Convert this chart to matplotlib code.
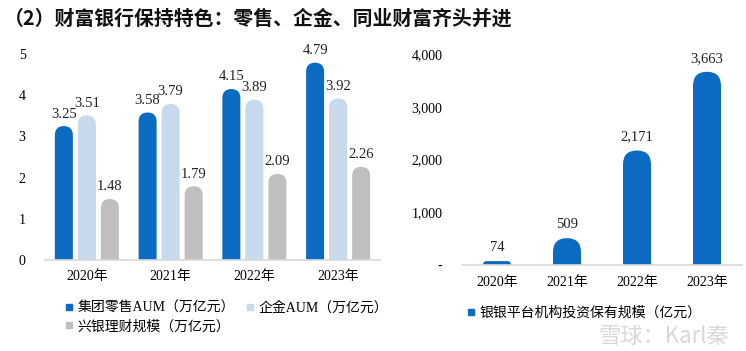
import matplotlib
matplotlib.use("Agg")
import matplotlib.pyplot as plt
from matplotlib.patches import FancyBboxPatch
from matplotlib.lines import Line2D
from matplotlib.ticker import FuncFormatter
import numpy as np

# 数据
years = ["2020年", "2021年", "2022年", "2023年"]
retail_aum = [3.25, 3.58, 4.15, 4.79]
corp_aum = [3.51, 3.79, 3.89, 3.92]
wm_scale = [1.48, 1.79, 2.09, 2.26]
left_names = ["集团零售AUM（万亿元）", "企金AUM（万亿元）", "兴银理财规模（万亿元）"]

interbank = [74, 509, 2171, 3663]
right_name = "银银平台机构投资保有规模（亿元）"

title = "（2）财富银行保持特色：零售、企金、同业财富齐头并进"

c_dark = "#0A6BC1"
c_light = "#C6DAEC"
c_gray = "#BFBFBF"

serif = ["Liberation Serif", "Noto Sans CJK SC"]
sans = ["Noto Sans CJK SC", "DejaVu Sans"]

fig = plt.figure(figsize=(7.46, 3.51), dpi=100)
fig.patch.set_facecolor("white")

axL = fig.add_axes([45/746, 91/351, 335/746, 206/351])
axR = fig.add_axes([462/746, 86/351, 280/746, 211/351])


def round_tops(ax, bars, frac=0.5):
    # 把普通柱子换成圆顶柱子
    fig.canvas.draw()
    bb = ax.get_window_extent()
    x0, x1 = ax.get_xlim()
    y0, y1 = ax.get_ylim()
    ppx = bb.width / (x1 - x0)
    ppy = bb.height / (y1 - y0)
    aspect = ppx / ppy
    for rect in list(bars):
        x, y = rect.get_x(), rect.get_y()
        w, h = rect.get_width(), rect.get_height()
        r_px = w * frac * ppx
        h_px = h * ppy
        if h_px < r_px:
            r_px = max(h_px, 0.5)
        ext = r_px / ppy
        p = FancyBboxPatch((x, y - ext), w, h + ext,
                           boxstyle=f"round,pad=0,rounding_size={r_px / ppx}",
                           mutation_aspect=aspect,
                           fc=rect.get_facecolor(), ec="none", zorder=2)
        ax.add_patch(p)
        rect.remove()


def style(ax):
    for s in ["top", "right", "left"]:
        ax.spines[s].set_visible(False)
    ax.spines["bottom"].set_color("#D9D9D9")
    ax.spines["bottom"].set_linewidth(1.2)
    ax.spines["bottom"].set_zorder(3)
    ax.tick_params(length=0)


# 左图
x = np.arange(len(years))
bw = 0.215
off = 0.275
axL.set_xlim(-0.5, 3.5)
axL.set_ylim(0, 5)
style(axL)
all_bars = []
for i, (vals, col) in enumerate(zip([retail_aum, corp_aum, wm_scale], [c_dark, c_light, c_gray])):
    bars = axL.bar(x + (i - 1) * off, vals, bw, color=col)
    for b, v in zip(bars, vals):
        axL.annotate(f"{v:.2f}", (b.get_x() + b.get_width() / 2, v),
                     xytext=(0, 4), textcoords="offset points",
                     ha="center", va="bottom", fontsize=10.5,
                     family=serif, color="#222222", annotation_clip=False)
    all_bars.append(bars)
axL.set_yticks(range(0, 6))
axL.set_xticks(x)
axL.set_xticklabels(years, family=serif, fontsize=10)
for t in axL.get_yticklabels():
    t.set_family(serif)
    t.set_fontsize(10)
axL.tick_params(axis="y", pad=14)
axL.tick_params(axis="x", pad=7)

# 右图
axR.set_xlim(-0.5, 3.5)
axR.set_ylim(0, 4000)
style(axR)
barsR = axR.bar(x, interbank, 0.4, color=c_dark)
for b, v in zip(barsR, interbank):
    axR.annotate(f"{v:,}", (b.get_x() + b.get_width() / 2, v),
                 xytext=(0, 5), textcoords="offset points",
                 ha="center", va="bottom", fontsize=10.5,
                 family=serif, color="#222222", annotation_clip=False)
axR.set_yticks(range(0, 4001, 1000))
axR.yaxis.set_major_formatter(FuncFormatter(lambda v, p: "-" if v == 0 else f"{int(v):,}"))
axR.set_xticks(x)
axR.set_xticklabels(years, family=serif, fontsize=10)
for t in axR.get_yticklabels():
    t.set_family(serif)
    t.set_fontsize(10)
axR.tick_params(axis="y", pad=14)
axR.tick_params(axis="x", pad=8)

for bars in all_bars:
    round_tops(axL, bars)
round_tops(axR, barsR)

# 图例
def sq(c):
    return Line2D([], [], marker="s", color=c, linestyle="none", markersize=4.5)

legL = fig.legend([sq(c_dark), sq(c_gray), sq(c_light)],
                  [left_names[0], left_names[2], left_names[1]],
                  ncol=2, loc="upper left", bbox_to_anchor=(50/746, 1 - 289/351),
                  frameon=False, handletextpad=0.1, columnspacing=0.6,
                  handlelength=1.0, labelspacing=0.35,
                  prop={"family": serif, "size": 10})

legR = fig.legend([sq(c_dark)], [right_name], loc="upper left",
                  bbox_to_anchor=(452/746, 1 - 293/351), frameon=False,
                  handletextpad=0.1, handlelength=1.0,
                  prop={"family": sans, "size": 10})

# 标题
fig.text(4/746, 1 - 18/351, title, fontsize=14.3, fontweight="bold",
         family=sans, va="center", ha="left", color="#111111")

# 水印
fig.text(598/746, 1 - 336/351, "雪球：Karl秦", fontsize=16, family=sans,
         color="#D8D8D8", va="center", ha="left")

fig.savefig("out.png", dpi=100, facecolor="white")
